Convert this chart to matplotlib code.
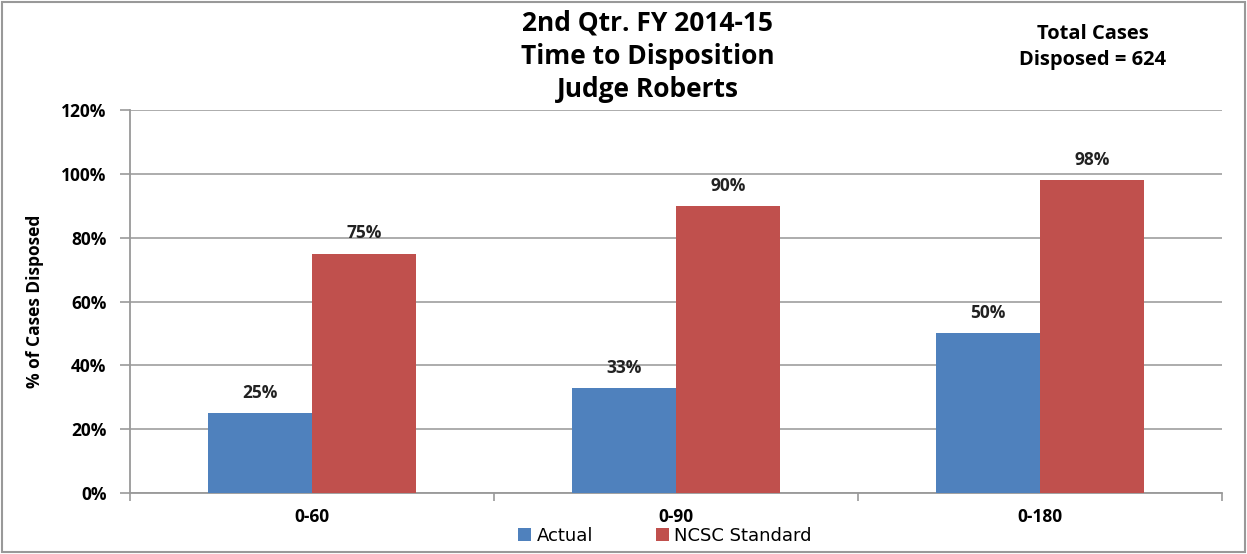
import numpy as np
import matplotlib.pyplot as plt
from matplotlib.patches import Rectangle

plt.rcParams['font.family'] = ['Open Sans', 'DejaVu Sans']

# data
categories = ['0-60', '0-90', '0-180']
actual = [25, 33, 50]
ncsc = [75, 90, 98]
series_names = ['Actual', 'NCSC Standard']
colors = ['#4f81bd', '#c0504d']

fig = plt.figure(figsize=(12.47, 5.54), dpi=100)
ax = fig.add_axes([0.1043, 0.110, 0.8757, 0.6914])

x = np.arange(len(categories))
w = 0.286
b1 = ax.bar(x - w / 2, actual, w, color=colors[0], label=series_names[0], zorder=3)
b2 = ax.bar(x + w / 2, ncsc, w, color=colors[1], label=series_names[1], zorder=3)

# value labels above bars
for bars, vals in [(b1, actual), (b2, ncsc)]:
    for r, v in zip(bars, vals):
        ax.text(r.get_x() + r.get_width() / 2, v + 3.5, f'{v}%', ha='center', va='bottom',
                fontsize=12.5, fontweight='bold', color='#222222')

ax.set_xlim(-0.5, 2.5)
ax.set_ylim(0, 120)
ax.set_yticks(np.arange(0, 121, 20))
ax.set_yticklabels([f'{v}%' for v in range(0, 121, 20)], fontsize=12.5, fontweight='bold')
ax.set_xticks(x)
ax.set_xticklabels(categories, fontsize=12.5, fontweight='bold')
ax.set_xticks([-0.5, 0.5, 1.5, 2.5], minor=True)
ax.tick_params(axis='x', which='major', length=0, pad=11)
ax.tick_params(axis='x', which='minor', length=6, color='#999999', width=1.2)
ax.tick_params(axis='y', length=7, color='#999999', width=1.2, pad=10)
ax.grid(axis='y', color='#a6a6a6', linewidth=1.3, zorder=0)
for s in ['top', 'right']:
    ax.spines[s].set_visible(False)
for s in ['left', 'bottom']:
    ax.spines[s].set_color('#999999')
    ax.spines[s].set_linewidth(1.3)

ax.set_ylabel('% of Cases Disposed', fontsize=12.5, fontweight='bold', labelpad=12)

# titles
for i, line in enumerate(['2nd Qtr. FY 2014-15', 'Time to Disposition', 'Judge Roberts']):
    fig.text(648 / 1247, 1 - (23 + 33 * i) / 554, line, ha='center', va='center',
             fontsize=19, fontweight='bold')
fig.text(1093 / 1247, 1 - 34 / 554, 'Total Cases', ha='center', va='center',
         fontsize=14.5, fontweight='bold')
fig.text(1093 / 1247, 1 - 60 / 554, 'Disposed = 624', ha='center', va='center',
         fontsize=14.5, fontweight='bold')

leg = fig.legend(loc='center', bbox_to_anchor=(665 / 1247, 1 - 536 / 554), ncol=2,
                 frameon=False, handlelength=0.7, handleheight=0.7, handletextpad=0.3,
                 columnspacing=3.5, prop={'family': 'DejaVu Sans', 'size': 13})

fig.patches.append(Rectangle((0.002, 0.003), 0.996, 0.994, transform=fig.transFigure,
                             fill=False, edgecolor='#999999', linewidth=1.5))

fig.savefig('out.png', dpi=100)
